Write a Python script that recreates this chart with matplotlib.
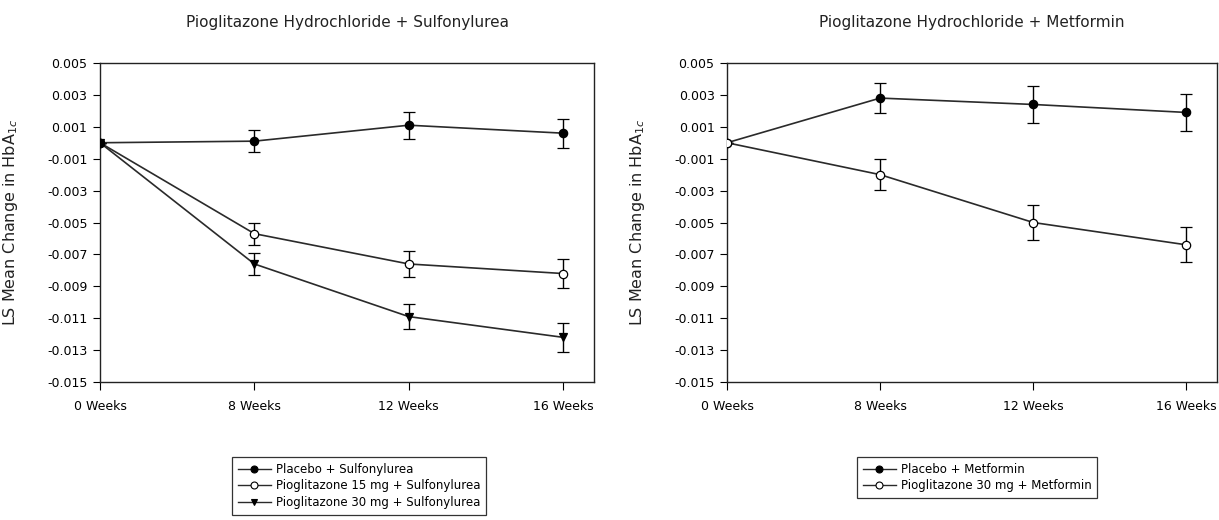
import numpy as np
import matplotlib
matplotlib.use("Agg")
import matplotlib.pyplot as plt
from matplotlib.lines import Line2D

# data
weeks = ['0 Weeks', '8 Weeks', '12 Weeks', '16 Weeks']
yticks = [0.005, 0.003, 0.001, -0.001, -0.003, -0.005, -0.007, -0.009, -0.011, -0.013, -0.015]

su_placebo = [0.0, 0.0001, 0.0011, 0.0006]
su_placebo_err = [0.0, 0.0007, 0.00085, 0.0009]
su_pio15 = [0.0, -0.0057, -0.0076, -0.0082]
su_pio15_err = [0.0, 0.0007, 0.0008, 0.0009]
su_pio30 = [0.0, -0.0076, -0.0109, -0.0122]
su_pio30_err = [0.0, 0.0007, 0.0008, 0.0009]

met_placebo = [0.0, 0.0028, 0.0024, 0.0019]
met_placebo_err = [0.0, 0.00095, 0.00115, 0.00115]
met_pio30 = [0.0, -0.0020, -0.0050, -0.0064]
met_pio30_err = [0.0, 0.00095, 0.0011, 0.0011]

plt.rcParams['font.family'] = ['DejaVu Sans']
W, H = 1219, 520
fig = plt.figure(figsize=(W / 100, H / 100), dpi=100)

ax1 = fig.add_axes([100 / W, (H - 382) / H, 494 / W, 319 / H])
ax2 = fig.add_axes([727 / W, (H - 382) / H, 490 / W, 319 / H])

def series(ax, y, err, marker, face, z):
    x = np.arange(len(y))
    ax.errorbar(x, y, yerr=err, color='#2a2a2a', lw=1.2, marker=marker, ms=6,
                mfc=face, mec='black', mew=0.9, ecolor='black', elinewidth=1.0,
                capsize=4, capthick=1.0, zorder=z)
    return Line2D([], [], color='#2a2a2a', lw=1.0, marker=marker, ms=5,
                  mfc=face, mec='black', mew=0.8)

h1 = [series(ax1, su_placebo, su_placebo_err, 'o', 'black', 5),
      series(ax1, su_pio15, su_pio15_err, 'o', 'white', 4),
      series(ax1, su_pio30, su_pio30_err, 'v', 'black', 3)]
labels1 = ['Placebo + Sulfonylurea', 'Pioglitazone 15 mg + Sulfonylurea',
           'Pioglitazone 30 mg + Sulfonylurea']

h2 = [series(ax2, met_placebo, met_placebo_err, 'o', 'black', 3),
      series(ax2, met_pio30, met_pio30_err, 'o', 'white', 4)]
labels2 = ['Placebo + Metformin', 'Pioglitazone 30 mg + Metformin']

titles = ['Pioglitazone Hydrochloride + Sulfonylurea', 'Pioglitazone Hydrochloride + Metformin']
for ax, t, w in zip([ax1, ax2], titles, [494, 490]):
    ax.set_xlim(0, 3.2)
    ax.set_ylim(-0.015, 0.005)
    ax.set_xticks(range(len(weeks)))
    ax.set_xticklabels(weeks)
    ax.set_yticks(yticks)
    ax.set_yticklabels(['%.3f' % v for v in yticks])
    ax.tick_params(axis='x', direction='out', length=6, pad=7, labelsize=9)
    ax.tick_params(axis='y', direction='out', length=5, pad=4, labelsize=9)
    for s in ax.spines.values():
        s.set_linewidth(1.0)
        s.set_color('#222222')
    ax.set_ylabel('LS Mean Change in HbA$_{1c}$', fontsize=11.5, color='#222222')
    ax.yaxis.set_label_coords(-80 / w, 0.5)
    ax.set_title(t, fontsize=11, pad=26, color='#222222')

leg_kw = dict(loc='upper center', frameon=True, fancybox=False,
              edgecolor='black', handlelength=2.8, handletextpad=0.4,
              labelspacing=0.3, borderpad=0.5, fontsize=8.5)
l1 = ax1.legend(h1, labels1, bbox_to_anchor=(359 / W, (H - 451) / H),
                bbox_transform=fig.transFigure, **leg_kw)
l2 = ax2.legend(h2, labels2, bbox_to_anchor=(977 / W, (H - 451) / H),
                bbox_transform=fig.transFigure, **leg_kw)
for l in (l1, l2):
    l.get_frame().set_linewidth(0.9)

fig.savefig('out.png', dpi=100)
